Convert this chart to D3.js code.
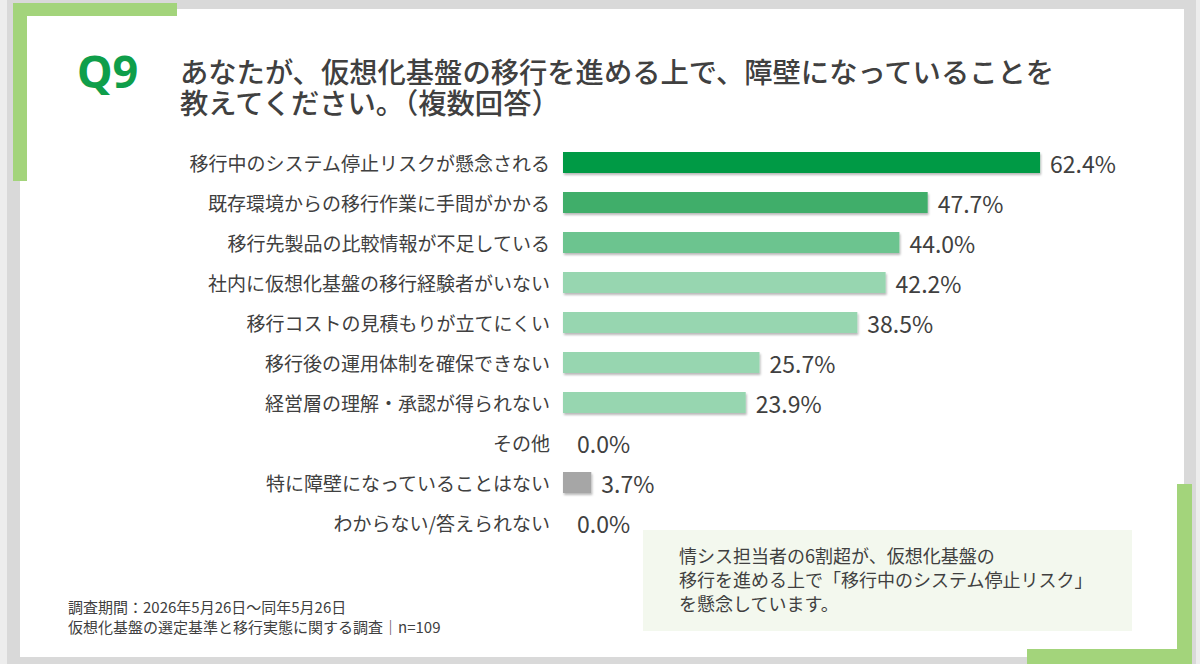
<!DOCTYPE html>
<html>
<head>
<meta charset="utf-8">
<script src="https://cdn.jsdelivr.net/npm/d3@7"></script>
<style>
  body { margin: 0; background: #ededed; }
  text { font-family: "Noto Sans CJK JP", "Noto Sans", sans-serif; fill: #404040; }
</style>
</head>
<body>
<div id="chart"></div>
<script>
// data
var categories = [
  "移行中のシステム停止リスクが懸念される",
  "既存環境からの移行作業に手間がかかる",
  "移行先製品の比較情報が不足している",
  "社内に仮想化基盤の移行経験者がいない",
  "移行コストの見積もりが立てにくい",
  "移行後の運用体制を確保できない",
  "経営層の理解・承認が得られない",
  "その他",
  "特に障壁になっていることはない",
  "わからない/答えられない"
];
var values = [62.4, 47.7, 44.0, 42.2, 38.5, 25.7, 23.9, 0.0, 3.7, 0.0];
var barColors = ["#009a44", "#3fae6a", "#6cc48f", "#97d6b0", "#97d6b0", "#97d6b0", "#97d6b0", "#97d6b0", "#a6a6a6", "#97d6b0"];
var titleLines = [
  "あなたが、仮想化基盤の移行を進める上で、障壁になっていることを",
  "教えてください。（複数回答）"
];
var noteLines = [
  "情シス担当者の6割超が、仮想化基盤の",
  "移行を進める上で「移行中のシステム停止リスク」",
  "を懸念しています。"
];
var footLines = [
  "調査期間：2026年5月26日～同年5月26日",
  "仮想化基盤の選定基準と移行実態に関する調査｜n=109"
];

var svgWidth = 1200;
var svgHeight = 664;

var svg = d3.select("#chart")
  .append("svg")
  .attr("width", svgWidth)
  .attr("height", svgHeight);

var defs = svg.append("defs");
var shadow = defs.append("filter")
  .attr("id", "shadow")
  .attr("x", "-5%").attr("y", "-30%")
  .attr("width", "115%").attr("height", "180%");
shadow.append("feDropShadow")
  .attr("dx", 1).attr("dy", 2)
  .attr("stdDeviation", 1.2)
  .attr("flood-color", "#000")
  .attr("flood-opacity", 0.28);

// frame
svg.append("rect").attr("x", 7).attr("y", 0).attr("width", 1189).attr("height", 664).attr("fill", "#d9d9d9");
svg.append("rect").attr("x", 20).attr("y", 9).attr("width", 1164).attr("height", 648).attr("fill", "#ffffff");

var accent = "#a3d47b";
svg.append("rect").attr("x", 13).attr("y", 3).attr("width", 14).attr("height", 178).attr("fill", accent);
svg.append("rect").attr("x", 13).attr("y", 3).attr("width", 164).attr("height", 13).attr("fill", accent);
svg.append("rect").attr("x", 1177).attr("y", 484).attr("width", 15).attr("height", 180).attr("fill", accent);
svg.append("rect").attr("x", 1027).attr("y", 649).attr("width", 165).attr("height", 15).attr("fill", accent);

// title
svg.append("text")
  .attr("x", 77).attr("y", 88)
  .style("font-family", "'Noto Sans', sans-serif")
  .style("font-size", "45px")
  .style("font-weight", "700")
  .style("fill", "#0f9e4a")
  .text("Q9");

svg.append("g").selectAll("text")
  .data(titleLines)
  .enter()
  .append("text")
  .attr("x", 180)
  .attr("y", (d, i) => 70 + i * 31)
  .attr("dominant-baseline", "central")
  .style("font-size", "28.3px")
  .style("font-weight", "500")
  .text(d => d);

// scales
var x = d3.scaleLinear().domain([0, 100]).range([563, 563 + 764.5]);
var y = d3.scaleBand()
  .domain(categories)
  .range([142.5, 542.5])
  .paddingInner(0.475)
  .paddingOuter(0.2375);

var rows = categories.map((c, i) => ({ cat: c, val: values[i], color: barColors[i] }));

var chart = svg.append("g");

chart.selectAll("rect.bar")
  .data(rows.filter(d => d.val > 0))
  .enter()
  .append("rect")
  .attr("class", "bar")
  .attr("x", x(0))
  .attr("y", d => y(d.cat))
  .attr("width", d => x(d.val) - x(0))
  .attr("height", y.bandwidth())
  .attr("fill", d => d.color)
  .attr("filter", "url(#shadow)");

chart.selectAll("text.cat")
  .data(rows)
  .enter()
  .append("text")
  .attr("class", "cat")
  .attr("x", 550)
  .attr("y", d => y(d.cat) + y.bandwidth() / 2)
  .attr("text-anchor", "end")
  .attr("dominant-baseline", "central")
  .style("font-size", "19px")
  .text(d => d.cat);

chart.selectAll("text.val")
  .data(rows)
  .enter()
  .append("text")
  .attr("class", "val")
  .attr("x", d => d.val > 0 ? x(d.val) + 10 : x(0) + 14)
  .attr("y", d => y(d.cat) + y.bandwidth() / 2)
  .attr("dominant-baseline", "central")
  .style("font-size", "23px")
  .text(d => d.val.toFixed(1) + "%");

// note box
svg.append("rect")
  .attr("x", 643).attr("y", 530)
  .attr("width", 489).attr("height", 101)
  .attr("fill", "#f3f8ee");

svg.append("g").selectAll("text")
  .data(noteLines)
  .enter()
  .append("text")
  .attr("x", 679)
  .attr("y", (d, i) => 555 + i * 24)
  .attr("dominant-baseline", "central")
  .style("font-size", "18px")
  .text(d => d);

// footer
svg.append("g").selectAll("text")
  .data(footLines)
  .enter()
  .append("text")
  .attr("x", 68)
  .attr("y", (d, i) => 606 + i * 20)
  .attr("dominant-baseline", "central")
  .style("font-size", "15px")
  .text(d => d);
</script>
</body>
</html>
